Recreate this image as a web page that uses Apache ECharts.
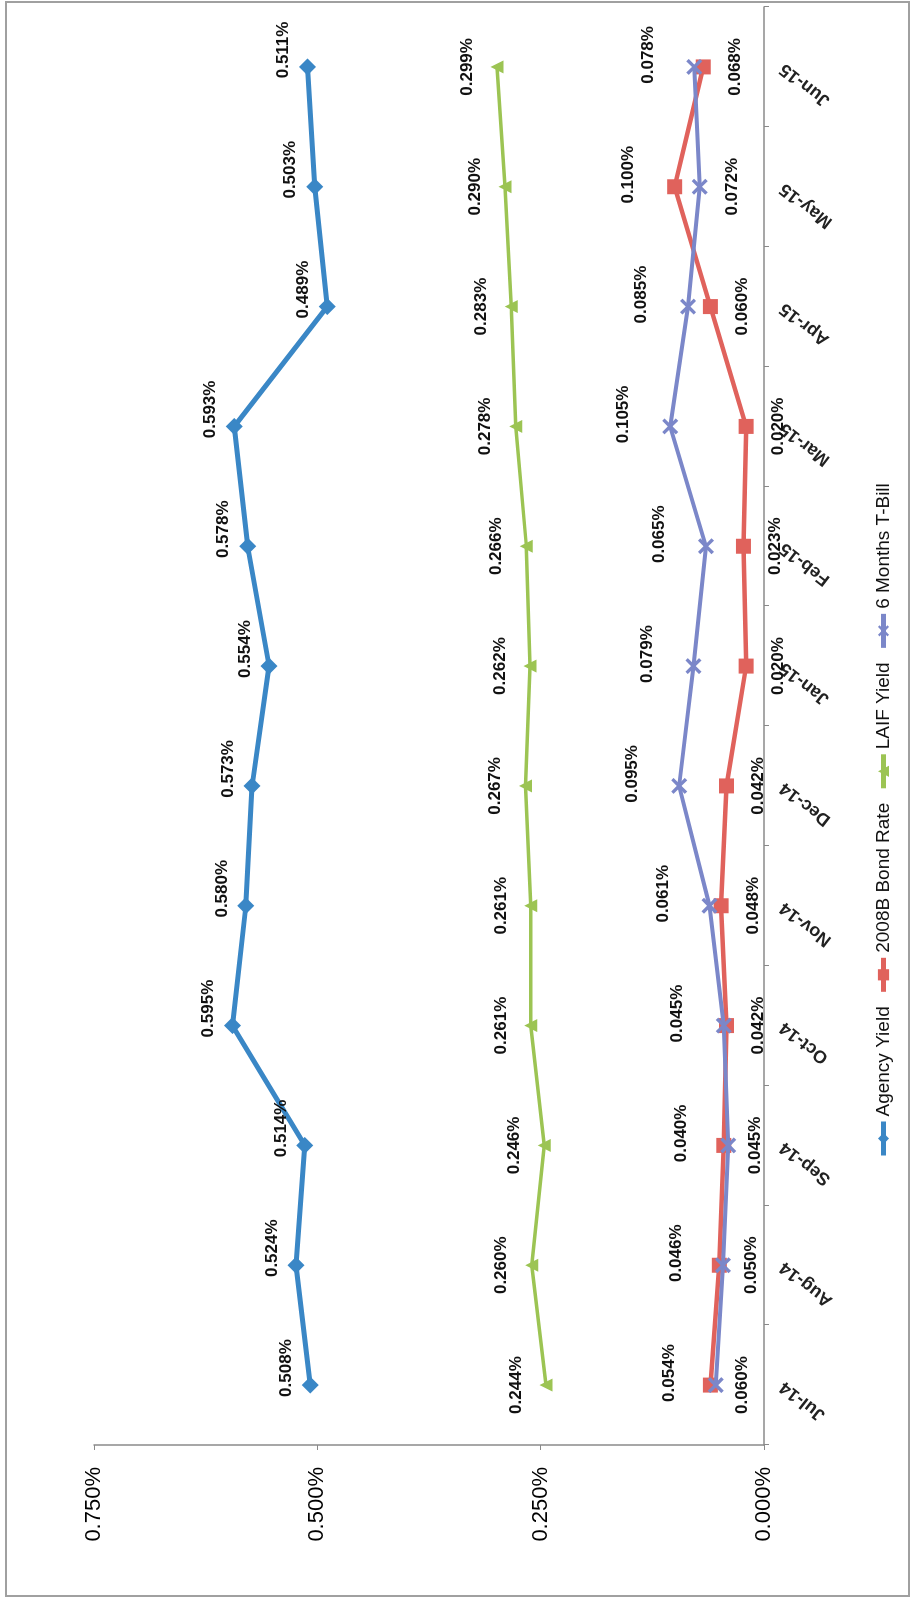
<!DOCTYPE html>
<html><head><meta charset="utf-8">
<script src="https://cdn.jsdelivr.net/npm/echarts@6/dist/echarts.min.js"></script>
<style>
html,body{margin:0;padding:0;background:#fff;overflow:hidden;width:914px;height:1599px;}
#frame{position:absolute;left:5px;top:1px;width:905px;height:1596px;border:2px solid #a0a0a0;box-sizing:border-box;}
#chart{position:absolute;left:0;top:0;width:1599px;height:914px;transform-origin:0 0;transform:translateY(1599px) rotate(-90deg);}
</style></head><body>
<div id="frame"></div>
<div id="chart"></div>
<script>
// ---- data (values in percent) ----
const categories = ['Jul-14','Aug-14','Sep-14','Oct-14','Nov-14','Dec-14','Jan-15','Feb-15','Mar-15','Apr-15','May-15','Jun-15'];
const agencyYield   = [0.508, 0.524, 0.514, 0.595, 0.580, 0.573, 0.554, 0.578, 0.593, 0.489, 0.503, 0.511];
const bondRate2008B = [0.060, 0.050, 0.045, 0.042, 0.048, 0.042, 0.020, 0.023, 0.020, 0.060, 0.100, 0.068];
const laifYield     = [0.244, 0.260, 0.246, 0.261, 0.261, 0.267, 0.262, 0.266, 0.278, 0.283, 0.290, 0.299];
const tBill6M       = [0.054, 0.046, 0.040, 0.045, 0.061, 0.095, 0.079, 0.065, 0.105, 0.085, 0.072, 0.078];
const valueAxisMin = 0, valueAxisMax = 0.75, valueAxisStep = 0.25;

// ---- styling ----
const FONT = 'Liberation Sans';
const fmt = p => p.value.toFixed(3) + '%';
const labelSwapCategories = ['May-15']; // labels of the two low series swap sides here
const upperLabel = {position:'top', distance:30, offset:[12,0]};
const lowerLabel = {position:'bottom', distance:16, offset:[0,0]};
const withSwap = (arr, swapLabel) => arr.map((v,i) =>
  labelSwapCategories.includes(categories[i]) ? {value:v, label:swapLabel} : v);

const xPath = 'path://M0,1.5 L1.5,0 L5,3.5 L8.5,0 L10,1.5 L6.5,5 L10,8.5 L8.5,10 L5,6.5 L1.5,10 L0,8.5 L3.5,5 Z';

const dataLabel = {show:true, formatter:fmt, fontFamily:FONT, fontSize:17, fontWeight:'bold', color:'#111'};

const chart = echarts.init(document.getElementById('chart'), null, {renderer:'canvas'});
chart.setOption({
  animation:false,
  backgroundColor:'transparent',
  grid:{left:154, right:7, top:94, bottom:150, containLabel:false},
  legend:{
    bottom:16, left:436, itemWidth:34, itemHeight:14, itemGap:12,
    lineStyle:{width:5},
    textStyle:{fontFamily:FONT, fontSize:19, color:'#111'},
    data:['Agency Yield','2008B Bond Rate','LAIF Yield','6 Months T-Bill']
  },
  xAxis:{
    type:'category', data:categories, boundaryGap:true,
    axisLine:{lineStyle:{color:'#8a8a8a', width:1.5}},
    axisTick:{show:true, length:5, lineStyle:{color:'#8a8a8a'}},
    axisLabel:{rotate:52, margin:18, fontFamily:FONT, fontSize:18, fontWeight:'bold', color:'#222'}
  },
  yAxis:{
    type:'value', min:valueAxisMin, max:valueAxisMax, interval:valueAxisStep,
    axisLine:{show:true, lineStyle:{color:'#8a8a8a', width:1.5}},
    axisTick:{show:true, length:5, lineStyle:{color:'#8a8a8a'}},
    splitLine:{show:false},
    axisLabel:{margin:22, fontFamily:FONT, fontSize:22, color:'#000', formatter:v => v.toFixed(3) + '%'}
  },
  series:[
    {name:'Agency Yield', type:'line', data:agencyYield, symbol:'diamond', symbolSize:17,
     itemStyle:{color:'#3a87c6'}, lineStyle:{color:'#3a87c6', width:5},
     label:Object.assign({}, dataLabel, {position:'top', distance:7, offset:[17,0]}), z:3},
    {name:'2008B Bond Rate', type:'line', data:withSwap(bondRate2008B, upperLabel), symbol:'rect', symbolSize:15,
     itemStyle:{color:'#e0625c'}, lineStyle:{color:'#e0625c', width:4.5},
     label:Object.assign({}, dataLabel, lowerLabel), z:3},
    {name:'LAIF Yield', type:'line', data:laifYield, symbol:'triangle', symbolSize:13,
     itemStyle:{color:'#9cc453'}, lineStyle:{color:'#9cc453', width:3.5},
     label:Object.assign({}, dataLabel, {position:'top', distance:15, offset:[0,0]}), z:3},
    {name:'6 Months T-Bill', type:'line', data:withSwap(tBill6M, lowerLabel), symbol:xPath, symbolSize:16,
     itemStyle:{color:'#7b87c9'}, lineStyle:{color:'#7b87c9', width:4},
     label:Object.assign({}, dataLabel, upperLabel), z:4}
  ]
});
</script>
</body></html>
